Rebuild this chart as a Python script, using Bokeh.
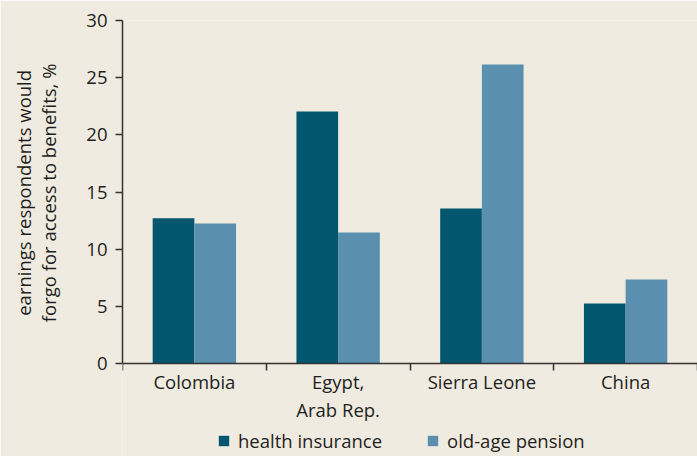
from bokeh.plotting import figure
from bokeh.models import FixedTicker, Legend, LegendItem, Range1d
from bokeh.embed import file_html
from bokeh.resources import INLINE

categories = ["Colombia", "Egypt,\nArab Rep.", "Sierra Leone", "China"]
health_insurance = [12.7, 22.05, 13.55, 5.25]
old_age_pension = [12.25, 11.45, 26.15, 7.35]
y_ticks = [0, 5, 10, 15, 20, 25, 30]
y_label_lines = ["earnings respondents would", "forgo for access to benefits, %"]

BG = "#f0ebe1"
DARK = "#02566e"
LIGHT = "#5b8faf"
TXT = "#231f20"
FONT = "Open Sans"
FS = "18.5px"

centers = [i + 0.5 for i in range(len(categories))]
bw = 0.29
y_top = 30
y_bottom = -y_top * (456 - 20 - 343) / 343.0  # room under the axis for labels and legend

p = figure(width=697, height=456, output_backend="svg", toolbar_location=None,
           x_range=Range1d(0, 4.0), y_range=Range1d(y_bottom, y_top),
           min_border_left=122, min_border_top=20, min_border_right=0,
           min_border_bottom=0)
p.background_fill_color = BG
p.border_fill_color = BG
p.outline_line_color = None
p.grid.visible = False

r1 = p.vbar(x=[c - bw / 2 for c in centers], top=health_insurance, bottom=0, width=bw,
            fill_color=DARK, line_color=None)
r2 = p.vbar(x=[c + bw / 2 for c in centers], top=old_age_pension, bottom=0, width=bw,
            fill_color=LIGHT, line_color=None)

xa = p.xaxis[0]
xa.fixed_location = 0
xa.ticker = FixedTicker(ticks=centers, minor_ticks=[0, 1, 2, 3, 4])
xa.major_label_overrides = {c: lab for c, lab in zip(centers, categories)}
xa.major_tick_line_color = None
xa.major_tick_out = 0
xa.major_tick_in = 0
xa.minor_tick_out = 7
xa.minor_tick_in = 0
xa.minor_tick_line_color = "#333333"
xa.minor_tick_line_width = 1.5
xa.axis_line_color = "#333333"
xa.axis_line_width = 1.5
xa.major_label_standoff = -2
xa.major_label_text_font = FONT
xa.major_label_text_font_size = FS
xa.major_label_text_color = TXT
xa.major_label_text_line_height = 1.15

# the frame reaches below zero, so pad the label's start to centre it on the 0-30 span
pad = "\u00a0" * 19
ya = p.yaxis[0]
ya.bounds = (0, y_top)
ya.ticker = FixedTicker(ticks=y_ticks)
ya.minor_tick_line_color = None
ya.major_tick_out = 7
ya.major_tick_in = 0
ya.major_tick_line_color = "#333333"
ya.major_tick_line_width = 1.5
ya.axis_line_color = "#333333"
ya.axis_line_width = 1.5
ya.major_label_standoff = 8
ya.major_label_text_font = FONT
ya.major_label_text_font_size = FS
ya.major_label_text_color = TXT
ya.axis_label = "\n".join(pad + line for line in y_label_lines)
ya.axis_label_text_font = FONT
ya.axis_label_text_font_size = FS
ya.axis_label_text_font_style = "normal"
ya.axis_label_text_color = TXT
ya.axis_label_text_line_height = 1.0
ya.axis_label_standoff = 22

legend = Legend(items=[LegendItem(label="health insurance", renderers=[r1]),
                       LegendItem(label="old-age pension", renderers=[r2])],
                orientation="horizontal", location=(95, 3))
legend.background_fill_alpha = 0
legend.border_line_color = None
legend.label_text_font = FONT
legend.label_text_font_size = FS
legend.label_text_color = TXT
legend.label_height = 20
legend.glyph_width = 13
legend.glyph_height = 13
legend.label_standoff = 8
legend.spacing = 44
legend.padding = 0
legend.margin = 0
p.add_layout(legend)

open("out.html", "w").write(file_html(p, INLINE))
